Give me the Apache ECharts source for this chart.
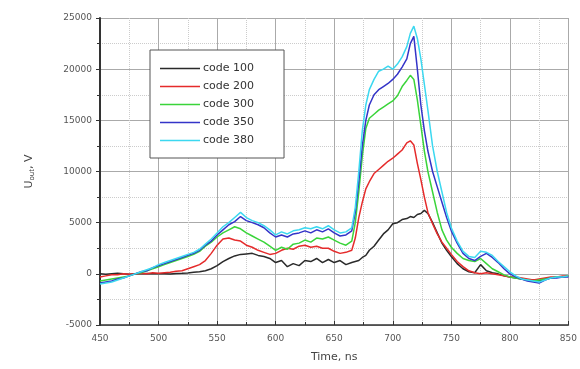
<!DOCTYPE html>
<html><head><meta charset="utf-8">
<script src="https://cdn.jsdelivr.net/npm/echarts@6/dist/echarts.min.js"></script>
<style>html,body{margin:0;padding:0;background:#fff}#c{width:580px;height:369px}</style>
</head><body><div id="c"></div>
<script>
const times = [450,455,460,465,470,475,480,485,490,495,500,505,510,515,520,525,530,535,540,545,550,555,560,565,570,575,580,585,590,595,600,605,610,615,620,625,630,635,640,645,650,655,660,665,
668,671,674,677,680,684,688,692,696,700,704,708,712,715,718,721,724,727,730,734,738,742,746,750,
755,760,765,770,775,780,785,790,795,800,805,810,815,820,825,830,835,840,845,850];

const code100 = [0,-50,0,50,0,-30,20,0,30,0,20,0,-20,30,50,80,150,200,300,500,800,1200,1500,1750,1900,1950,2000,1800,1700,1500,1100,1300,700,1000,800,1300,1200,1500,1100,1400,1100,1300,900,1100,
1200,1300,1600,1800,2300,2700,3300,3900,4300,4900,5000,5300,5400,5600,5500,5800,5900,6200,5900,5000,4000,3000,2300,1700,
1000,500,200,100,900,300,100,0,-200,-300,-400,-500,-600,-600,-700,-500,-400,-300,-300,-200];

const code200 = [-300,-200,-100,-100,0,-50,0,50,0,100,50,100,150,250,300,500,700,900,1300,2000,2800,3400,3500,3300,3200,2800,2600,2300,2100,1900,2000,2300,2500,2400,2700,2800,2600,2700,2500,2500,2200,2000,2100,2300,
3500,5500,7000,8300,9000,9800,10200,10600,11000,11300,11700,12100,12800,13000,12600,10800,9200,7500,6000,4900,3900,3100,2500,1900,
1200,700,300,100,0,100,0,-100,-200,-300,-300,-400,-500,-600,-500,-400,-300,-300,-200,-200];

const code300 = [-700,-600,-500,-400,-300,-200,0,100,300,500,700,900,1100,1300,1500,1700,1900,2200,2700,3100,3600,4000,4300,4600,4400,4000,3700,3400,3100,2700,2300,2600,2400,2900,3000,3300,3100,3500,3400,3600,3300,3000,2800,3200,
5000,8000,11500,14200,15200,15600,16000,16300,16600,16900,17400,18300,18900,19400,19000,17000,14500,12000,10000,8000,6000,4300,3300,2600,
2000,1500,1300,1200,1500,1000,500,200,-100,-300,-400,-500,-600,-700,-600,-500,-400,-300,-300,-200];

const code350 = [-900,-800,-700,-500,-400,-200,0,200,300,600,800,1000,1200,1400,1600,1800,2000,2300,2800,3200,3800,4300,4800,5100,5600,5200,5000,4800,4500,4000,3600,3800,3600,3900,4000,4200,4000,4300,4100,4400,4000,3700,3800,4200,
6000,9000,12500,15000,16500,17500,18000,18300,18600,19000,19500,20200,21000,22500,23200,20000,16500,14000,12000,10000,8500,7000,5500,4200,
3000,2000,1500,1300,1700,2000,1600,1100,500,0,-300,-500,-700,-800,-900,-600,-400,-400,-300,-300];

const code380 = [-1000,-900,-800,-600,-400,-200,0,200,400,600,900,1100,1300,1500,1700,1900,2100,2400,2900,3400,4000,4600,5000,5500,6000,5500,5200,5000,4700,4300,3800,4100,3900,4200,4300,4500,4400,4600,4400,4700,4300,4000,4100,4500,
6500,10000,14000,16500,18000,19000,19800,20000,20300,20000,20500,21200,22200,23500,24200,23000,21000,18500,16000,12500,10000,8000,6000,4500,
3200,2200,1700,1600,2200,2100,1800,1200,700,200,-200,-500,-600,-700,-800,-600,-400,-300,-300,-200];

const seriesNames = ['code 100','code 200','code 300','code 350','code 380'];
const seriesValues = [code100, code200, code300, code350, code380];
const colors = ['#2a2a2a','#e52b2b','#3ad43a','#3434c8','#3cd8f0'];

const chart = echarts.init(document.getElementById('c'), null, {renderer:'canvas'});
chart.setOption({
  animation:false,
  backgroundColor:'#fff',
  grid:{left:100, right:4, top:18, bottom:44},
  legend:{
    orient:'vertical', left:150, top:50, width:133,
    padding:[13,30,12,10], itemGap:7, itemWidth:40, itemHeight:11,
    borderColor:'#555', borderWidth:1, backgroundColor:'#fff',
    icon:'path://M0,5L40,5L40,6.5L0,6.5Z',
    textStyle:{color:'#333', fontSize:11, fontFamily:'DejaVu Sans', padding:[0,0,0,-2]},
    data:seriesNames
  },
  xAxis:{
    type:'value', min:450, max:850, interval:50,
    name:'Time, ns', nameLocation:'middle', nameGap:27,
    nameTextStyle:{color:'#444', fontSize:11, fontFamily:'DejaVu Sans'},
    axisLine:{show:true, onZero:false, lineStyle:{color:'#333', width:1.5}},
    axisTick:{show:true, inside:true, length:4, lineStyle:{color:'#333'}},
    minorTick:{show:true, splitNumber:2, length:3, lineStyle:{color:'#333'}},
    axisLabel:{color:'#555', fontSize:9, fontFamily:'DejaVu Sans', margin:9, formatter:v=>String(v)},
    splitLine:{show:true, lineStyle:{color:'#aaa', width:1}},
    minorSplitLine:{show:true, lineStyle:{color:'#ccc', type:'dotted'}}
  },
  yAxis:{
    type:'value', min:-5000, max:25000, interval:5000,
    name:'{a|U}{s|out}{a|, V}', nameLocation:'middle', nameGap:64, nameRotate:90,
    nameTextStyle:{rich:{a:{color:'#444', fontSize:11, fontFamily:'DejaVu Sans'}, s:{color:'#444', fontSize:7, fontFamily:'DejaVu Sans', verticalAlign:'bottom', padding:[6,0,0,0]}}},
    axisLine:{show:true, onZero:false, lineStyle:{color:'#333', width:2}},
    axisTick:{show:true, inside:false, length:4, lineStyle:{color:'#333'}},
    minorTick:{show:true, splitNumber:2, length:3, lineStyle:{color:'#333'}},
    axisLabel:{color:'#555', fontSize:9, fontFamily:'DejaVu Sans', margin:8, formatter:v=>String(v)},
    splitLine:{show:true, lineStyle:{color:'#aaa', width:1}},
    minorSplitLine:{show:true, lineStyle:{color:'#ccc', type:'dotted'}}
  },
  series: seriesNames.map((n,i)=>({
    name:n, type:'line', showSymbol:false, symbol:'none',
    data: times.map((t,j)=>[t, seriesValues[i][j]]),
    lineStyle:{color:colors[i], width:1.5}, itemStyle:{color:colors[i]},
    z: 2+i
  }))
});
</script></body></html>
